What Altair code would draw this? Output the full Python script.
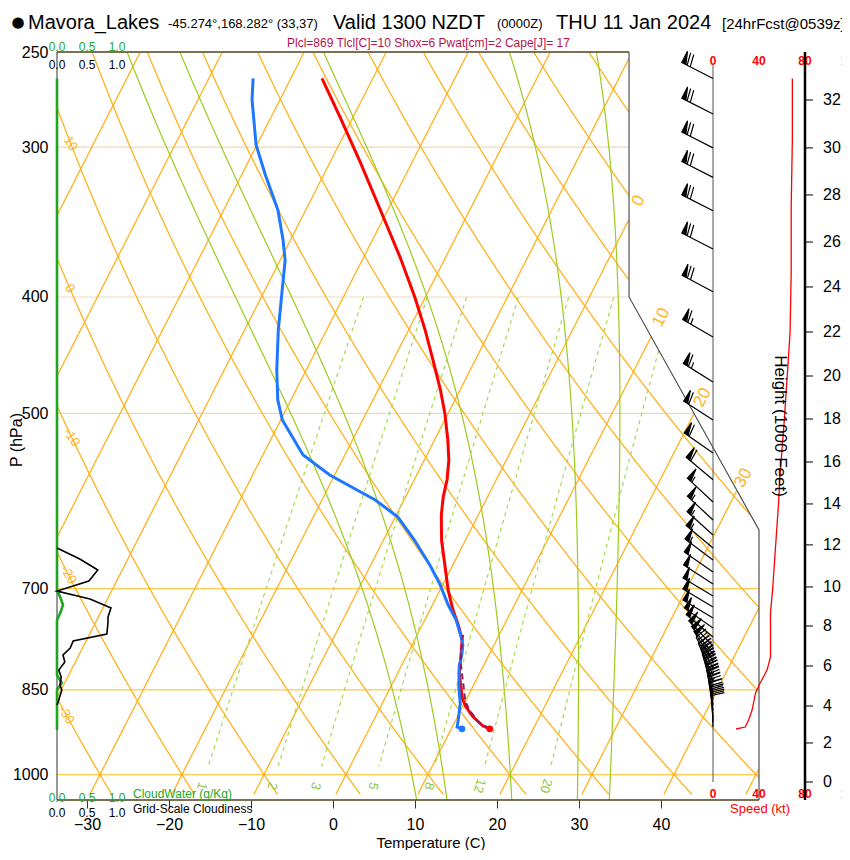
import numpy as np
import pandas as pd
import altair as alt

FONT = "Liberation Sans"

# ---------------- diagram geometry ----------------
P_BOT, P_TOP = 1050.0, 250.0
PX_LEFT, PX_TOP = 57, 52               # page position of the plot origin (free text)
VIEW_W = 842 - PX_LEFT                 # keep the page within 850 px
X_MIN = -33.66                         # skewed-temperature units at the left edge
X_MAX = X_MIN + VIEW_W / 8.2           # 8.2 px per degC
SKEW = 32.4                            # degC per ln(p) unit

BOUND_P = [250.0, 400.0, 625.5, 1050.0]   # right edge of the diagram
BOUND_X = [36.1, 36.1, 51.95, 51.95]

PRESSURE_TICKS = [250, 300, 400, 500, 700, 850, 1000]
TEMP_TICKS = [-30, -20, -10, 0, 10, 20, 30, 40]
ISOBARS_STRONG = [1000, 850, 700]
ISOBARS_LIGHT = [500, 400, 300]

ISOTHERMS = list(range(-110, 60, 10))
DRY_THETA = list(range(-40, 130, 10))
MOIST_T1050 = [10.2, 13.9, 21.8, 29.8, 33.7]
MIX_W = [1, 2, 3, 5, 8, 12, 20]
ISO_LAB_T = [0, 10, 20, 30]
ISO_LAB_P = [332.6, 416, 485, 566]
THETA_LAB = [10, 0, -10, -20, -30]
THETA_LAB_P = [298, 393.5, 523.5, 681.6, 892]

# ---------------- sounding ----------------
TEMP_P = [263, 283.7, 309, 338.5, 371, 400, 426, 451, 478, 500, 526, 547, 568, 587, 608,
          638, 675, 702, 729, 750.5, 772.5, 795, 823, 863, 878, 895, 911, 916]
TEMP_T = [-46.2, -41.5, -36.3, -30.9, -25.5, -21.3, -18.0, -15.2, -12.4, -10.4, -8.4, -7.0,
          -6.0, -5.4, -4.5, -2.9, -0.6, 1.0, 2.8, 4.4, 5.8, 6.6, 7.5, 9.4, 10.4, 11.9, 13.7, 14.7]

DEW_P = [263, 274, 298.8, 316.5, 338.5, 358.6, 372.7, 394.7, 426, 460, 487.4, 506.5, 541.6,
         562.8, 590.5, 610, 638, 668.9, 695, 722, 743, 768, 780, 792, 813, 845, 872, 900.6,
         912.8, 916]
DEW_T = [-54.6, -53.4, -50.1, -47.1, -43.4, -40.9, -39.4, -37.9, -35.9, -33.6, -31.6, -29.8,
         -25.1, -20.6, -13.5, -9.7, -6.2, -2.8, -0.3, 1.9, 3.8, 5.5, 6.2, 6.6, 7.1, 8.3, 9.5,
         10.3, 10.6, 11.3]

PARCEL_P = [916, 906, 883.5, 866.7, 838.9, 810.4, 787.4, 765]
PARCEL_T = [14.7, 13.1, 11.0, 9.9, 8.6, 7.2, 6.3, 5.6]

SFC_P = 916
SFC_T = 14.7
SFC_TD = 11.3

WIND_P = [263, 281.6, 300.5, 318, 339, 364.8, 396, 432, 470.8, 506.5, 539.6, 568, 592.8,
          613.6, 631.5, 647.4, 662.5, 678, 693.7, 710, 725, 740.5, 754.8, 768, 781.4, 793.5,
          804, 815, 826, 835.7, 845.4, 855, 865, 875, 885, 895.5, 904, 912.8]
WIND_DIR = [297, 297, 297, 297, 297, 297, 298, 300, 302, 303, 305, 310, 313, 313, 312, 310,
            307, 305, 303, 301, 301, 301, 305, 310, 316, 322, 327, 331, 335, 339, 342, 345,
            348, 350, 352, 355, 357, 358]
WIND_SPD = [69, 69, 69, 68, 68, 68, 68, 67, 64, 62, 60, 58, 57, 56, 55, 54, 53, 52, 52, 51,
            50, 50, 50, 50, 50, 50, 49, 47, 45, 42, 40, 38, 36, 34, 32, 30, 28, 22]

SPD_P = [263, 296, 336.5, 382, 428.6, 506.5, 568, 593.9, 697.7, 733.4, 798, 818.3, 838.9,
         855, 883.5, 900.6, 912.8, 916.3]
SPD_V = [69, 69, 68, 68, 67, 62, 58, 57, 52, 50, 50, 47, 41, 37, 34, 31, 28, 20]
SPEED_TICKS = [0, 40, 80, 120]
SPD_X0 = 46.34        # skewed-x position of 0 kt
SPD_K = 0.14024       # skewed-x units per kt

HEIGHT_KFT = [0, 2, 4, 6, 8, 10, 12, 14, 16, 18, 20, 22, 24, 26, 28, 30, 32]
HEIGHT_P = [1014.4, 941.2, 876.8, 812, 752, 697.7, 643.6, 595, 549, 505.5, 465.5, 427.8,
            392.4, 360, 328.9, 300.5, 274.1]

CW_P = [263, 702, 712.6, 722.3, 732, 743.4, 826, 838.9, 850.2, 918]
CW_V = [0, 0, 0.06, 0.1, 0.06, 0, 0, 0.08, 0, 0]
CLD_P = [647.4, 661.3, 675.4, 689.7, 703.2, 714, 726.4, 739.1, 747.7, 763.7, 774, 784.5,
         795, 805.8, 818.3, 829.3, 842.1, 850.2, 870, 875]
CLD_V = [0, 0.38, 0.68, 0.53, 0, 0.55, 0.9, 0.85, 0.85, 0.83, 0.27, 0.22, 0.1, 0.13, 0.03,
         0.07, 0.05, 0.08, 0.02, 0]
CLOUD_TICKS = [0.0, 0.5, 1.0]
CLOUD_K = 60 / 8.2    # skewed-x units per 1.0 of cloud scale

ORANGE = "#FFB21E"
ORANGE_LIGHT = "#FFC850"
GREEN = "#9CCB1E"
GREEN_DASH = "#A8D84E"
GREEN_TXT = "#8CC63F"
RED = "#FF0000"
BLUE = "#1E78FF"
PURPLE = "#8B1C62"
FRAME = "#4E4018"


def skewx(T, p):
    return np.asarray(T, float) + SKEW * np.log(P_BOT / np.asarray(p, float))


def right_edge(p):
    return np.interp(np.log(np.asarray(p, float)), np.log(BOUND_P), BOUND_X)


PS = np.exp(np.linspace(np.log(P_TOP), np.log(P_BOT), 800))


def clip_lines(curves, pmax=1040.0):
    rows, gid = [], 0
    for xs, ps in curves:
        ok = (xs >= X_MIN) & (xs <= right_edge(ps)) & (ps <= pmax) & (ps >= P_TOP)
        run = []
        for x, p, good in list(zip(xs, ps, ok)) + [(0, 0, False)]:
            if good:
                run.append((x, p))
            else:
                if len(run) > 1:
                    for k, (a, b) in enumerate(run):
                        rows.append((a, b, gid, k))
                    gid += 1
                run = []
    return pd.DataFrame(rows, columns=["X", "p", "g", "o"])


# isotherms and dry adiabats
iso_df = clip_lines([(skewx(np.full_like(PS, T), PS), PS) for T in ISOTHERMS])
dry_df = clip_lines([(skewx((th + 273.15) * (PS / 1000.0) ** 0.2857 - 273.15, PS), PS)
                     for th in DRY_THETA])

# moist adiabats (pseudo-adiabatic integration)
Rd, Cp, Lv, EPS = 287.04, 1005.7, 2.501e6, 0.622


def es(tc):
    return 6.112 * np.exp(17.67 * tc / (tc + 243.5))


def dtdlnp(T, p):
    e = es(T - 273.15)
    rs = EPS * e / (p - e)
    return (Rd * T + Lv * rs) / (Cp + Lv * Lv * rs * EPS / (Rd * T * T))


def moist(t0):
    ps = PS[::-1]
    lnp = np.log(ps)
    T = t0 + 273.15
    out = [T]
    for i in range(1, len(ps)):
        h = lnp[i] - lnp[i - 1]
        pa, pm, pb = ps[i - 1], np.exp(lnp[i - 1] + h / 2), ps[i]
        k1 = dtdlnp(T, pa)
        k2 = dtdlnp(T + h * k1 / 2, pm)
        k3 = dtdlnp(T + h * k2 / 2, pm)
        k4 = dtdlnp(T + h * k3, pb)
        T = T + h * (k1 + 2 * k2 + 2 * k3 + k4) / 6
        out.append(T)
    return skewx(np.array(out) - 273.15, ps), ps


moist_df = clip_lines([moist(t) for t in MOIST_T1050], pmax=1050.0)


def mix_td(w, p):
    e = w * p / (622.0 + w)
    l = np.log(e / 6.112)
    return 243.5 * l / (17.67 - l)


PM = PS[(PS >= 400) & (PS <= 985)]
mix_df = clip_lines([(skewx(mix_td(w, PM), PM), PM) for w in MIX_W], pmax=985.0)

# ---------------- scales / encodings ----------------
XSC = alt.Scale(domain=[X_MIN, X_MAX], nice=False, zero=False)
YSC = alt.Scale(type="log", domain=[P_BOT, P_TOP], nice=False)
XAX = alt.Axis(values=TEMP_TICKS, tickSize=8, tickColor="#333333", tickWidth=1,
               labelFontSize=16, labelFont=FONT, labelColor="black", labelPadding=8,
               domain=False, grid=False, title=None)
YAX = alt.Axis(values=PRESSURE_TICKS, format="d", tickSize=0, labelFontSize=16,
               labelFont=FONT, labelColor="black", labelPadding=9, domain=False,
               grid=False, title=None)


def ex(f="X"):
    return alt.X(f"{f}:Q", scale=XSC, axis=XAX)


def ey(f="p"):
    return alt.Y(f"{f}:Q", scale=YSC, axis=YAX)


def gridlines(df, color, width=1.2, dash=None):
    kw = dict(color=color, strokeWidth=width)
    if dash:
        kw["strokeDash"] = dash
    return alt.Chart(df).mark_line(**kw).encode(x=ex(), y=ey(), detail="g:N", order="o:Q")


def ftext(t, px, py, size=12, color="black", align="left", baseline="alphabetic",
          angle=0, weight="normal", font=FONT):
    return alt.Chart(pd.DataFrame({"t": [t]})).mark_text(
        align=align, baseline=baseline, angle=angle, fontSize=size, color=color,
        fontWeight=weight, font=font).encode(
        x=alt.value(px - PX_LEFT), y=alt.value(py - PX_TOP), text="t:N")


layers = []

# isobars
isob = pd.DataFrame({"p": ISOBARS_STRONG + ISOBARS_LIGHT})
isob["X1"] = X_MIN
isob["X2"] = right_edge(isob["p"])
isob["c"] = [ORANGE_LIGHT] * 3 + ["#EED9B0"] * 3
layers.append(alt.Chart(isob).mark_rule(strokeWidth=1.2).encode(
    x=ex("X1"), x2="X2:Q", y=ey(), color=alt.Color("c:N", scale=None)))

layers.append(gridlines(iso_df, ORANGE, 1.3))
layers.append(gridlines(dry_df, ORANGE, 1.3))
layers.append(gridlines(moist_df, GREEN, 1.2))
layers.append(gridlines(mix_df, GREEN_DASH, 1.2, [4, 4]))

# grid labels
iso_lab = pd.DataFrame({"t": [str(v) for v in ISO_LAB_T], "p": ISO_LAB_P})
iso_lab["X"] = skewx(ISO_LAB_T, ISO_LAB_P)
layers.append(alt.Chart(iso_lab).mark_text(angle=297, fontSize=17, color=ORANGE, font=FONT)
              .encode(x=ex(), y=ey(), text="t:N"))
th_lab = pd.DataFrame({"t": [str(v) for v in THETA_LAB], "p": THETA_LAB_P})
th_lab["X"] = skewx((np.array(THETA_LAB) + 273.15) * (np.array(THETA_LAB_P) / 1000.0) ** 0.2857
                    - 273.15, THETA_LAB_P)
layers.append(alt.Chart(th_lab).mark_text(angle=57, fontSize=13, color=ORANGE, font=FONT)
              .encode(x=ex(), y=ey(), text="t:N"))
mx_lab = pd.DataFrame({"t": [str(w) for w in MIX_W], "p": 1022.0})
mx_lab["X"] = skewx([mix_td(w, 1022.0) for w in MIX_W], 1022.0)
layers.append(alt.Chart(mx_lab).mark_text(angle=105, fontSize=13, color=GREEN_TXT, font=FONT)
              .encode(x=ex(), y=ey(), text="t:N"))

# frame
frame_tb = pd.DataFrame({"p": [P_TOP, P_BOT], "X1": [X_MIN, X_MIN],
                         "X2": [BOUND_X[0], BOUND_X[-1]]})
layers.append(alt.Chart(frame_tb).mark_rule(color=FRAME, strokeWidth=1.4).encode(
    x=ex("X1"), x2="X2:Q", y=ey()))
frame_side = pd.DataFrame({"X": [X_MIN, X_MIN] + BOUND_X,
                           "p": [P_TOP, P_BOT] + BOUND_P,
                           "g": [0, 0, 1, 1, 1, 1], "o": [0, 1, 0, 1, 2, 3]})
layers.append(alt.Chart(frame_side).mark_line(color="#444444", strokeWidth=1.1).encode(
    x=ex(), y=ey(), detail="g:N", order="o:Q"))

# cloud water / cloudiness profiles on the left edge
cw = pd.DataFrame({"p": CW_P, "v": CW_V})
cw["X"] = X_MIN + cw["v"] * CLOUD_K
cw["o"] = range(len(cw))
layers.append(alt.Chart(cw).mark_line(color="#1FA61F", strokeWidth=2.6).encode(
    x=ex(), y=ey(), order="o:Q"))
cld = pd.DataFrame({"p": CLD_P, "v": CLD_V})
cld["X"] = X_MIN + cld["v"] * CLOUD_K
cld["o"] = range(len(cld))
layers.append(alt.Chart(cld).mark_line(color="black", strokeWidth=1.6).encode(
    x=ex(), y=ey(), order="o:Q"))

# temperature, dewpoint, parcel
tdf = pd.DataFrame({"p": TEMP_P, "T": TEMP_T})
tdf["X"] = skewx(tdf["T"], tdf["p"])
tdf["o"] = range(len(tdf))
layers.append(alt.Chart(tdf).mark_line(color=RED, strokeWidth=3).encode(
    x=ex(), y=ey(), order="o:Q"))
ddf = pd.DataFrame({"p": DEW_P, "T": DEW_T})
ddf["X"] = skewx(ddf["T"], ddf["p"])
ddf["o"] = range(len(ddf))
layers.append(alt.Chart(ddf).mark_line(color=BLUE, strokeWidth=3).encode(
    x=ex(), y=ey(), order="o:Q"))
pdf = pd.DataFrame({"p": PARCEL_P, "T": PARCEL_T})
pdf["X"] = skewx(pdf["T"], pdf["p"])
pdf["o"] = range(len(pdf))
layers.append(alt.Chart(pdf).mark_line(color=PURPLE, strokeWidth=2, strokeDash=[6, 4]).encode(
    x=ex(), y=ey(), order="o:Q"))
sfc = pd.DataFrame({"p": [SFC_P, SFC_P], "T": [SFC_T, SFC_TD], "c": [RED, BLUE]})
sfc["X"] = skewx(sfc["T"], sfc["p"])
layers.append(alt.Chart(sfc).mark_circle(size=45, opacity=1).encode(
    x=ex(), y=ey(), color=alt.Color("c:N", scale=None)))

# wind barbs
BARB_LEN_PX = 35
BARB_SIZE = (2 * BARB_LEN_PX) ** 2


def barb_path(speed):
    s = int(5 * round(speed / 5.0))
    n50, r = divmod(s, 50)
    n10, r = divmod(r, 10)
    n5 = 1 if r >= 5 else 0
    fl = 0.36
    out = ["M0,0L0,-1"]
    pos = -1.0
    for _ in range(n50):
        out.append(f"M0,{pos:.3f}L{fl:.3f},{pos:.3f}L0,{pos + 0.13:.3f}Z")
        pos += 0.17
    for _ in range(n10):
        out.append(f"M0,{pos:.3f}L{fl:.3f},{pos - 0.07:.3f}")
        pos += 0.1
    if n5:
        if pos == -1.0:
            pos += 0.1
        out.append(f"M0,{pos:.3f}L{fl / 2:.3f},{pos - 0.035:.3f}")
    return "".join(out)


wdf = pd.DataFrame({"p": WIND_P, "dir": WIND_DIR, "spd": WIND_SPD})
wdf["path"] = [barb_path(s) for s in WIND_SPD]
wdf["X"] = SPD_X0

# speed axis (0 kt line)
layers.append(alt.Chart(pd.DataFrame({"a": [0]})).mark_rule(color="#555555", strokeWidth=1).encode(
    x=alt.value(713 - PX_LEFT), y=alt.value(65 - PX_TOP), y2=alt.value(782 - PX_TOP)))
layers.append(alt.Chart(wdf).mark_point(filled=True, fill="black", stroke="black",
                                        strokeWidth=1.2, size=BARB_SIZE, opacity=1).encode(
    x=ex(), y=ey(), shape=alt.Shape("path:N", scale=None),
    angle=alt.Angle("dir:Q", scale=None)))

# wind speed profile
sdf = pd.DataFrame({"p": SPD_P, "v": SPD_V})
sdf["X"] = SPD_X0 + sdf["v"] * SPD_K
sdf["o"] = range(len(sdf))
layers.append(alt.Chart(sdf).mark_line(color=RED, strokeWidth=1.3).encode(
    x=ex(), y=ey(), order="o:Q"))

# speed scale labels (top and bottom)
spl = pd.DataFrame({"t": [str(v) for v in SPEED_TICKS]})
spl["X"] = SPD_X0 + np.array(SPEED_TICKS) * SPD_K
for py in (65, 798):
    layers.append(alt.Chart(spl).mark_text(fontSize=12, fontWeight="bold", color=RED,
                                           font=FONT, align="center", baseline="alphabetic")
                  .encode(x=ex(), y=alt.value(py - PX_TOP), text="t:N"))
layers.append(ftext("Speed (kt)", 760, 813, size=13, color=RED, align="center"))

# height axis
layers.append(alt.Chart(pd.DataFrame({"a": [0]})).mark_rule(color="black", strokeWidth=2.5).encode(
    x=alt.value(805 - PX_LEFT), y=alt.value(0), y2=alt.value(800 - PX_TOP)))
hdf = pd.DataFrame({"p": HEIGHT_P, "t": [str(h) for h in HEIGHT_KFT]})
layers.append(alt.Chart(hdf).mark_rule(color="black", strokeWidth=1).encode(
    x=alt.value(805 - PX_LEFT), x2=alt.value(813 - PX_LEFT), y=ey()))
layers.append(alt.Chart(hdf).mark_text(fontSize=16, font=FONT, color="black", align="left",
                                       baseline="middle")
              .encode(x=alt.value(823 - PX_LEFT), y=ey(), text="t:N"))
layers.append(ftext("Height (1000 Feet)", 780, 426, size=17, align="center", baseline="middle",
                    angle=90))

# cloud scale labels
cl = pd.DataFrame({"t": ["%.1f" % v for v in CLOUD_TICKS]})
cl["X"] = X_MIN + np.array(CLOUD_TICKS) * CLOUD_K
for py, col in ((47, "#22AA22"), (65, "black"), (798, "#22AA22"), (813, "black")):
    layers.append(alt.Chart(cl).mark_text(fontSize=12, font=FONT, color=col, align="center")
                  .encode(x=ex(), y=alt.value(py - PX_TOP), text="t:N"))
layers.append(ftext("CloudWater (g/Kg)", 133, 798, size=12, color="#22AA22"))
layers.append(ftext("Grid-Scale Cloudiness", 133, 813, size=12))

# axis titles
layers.append(ftext("Temperature (C)", 431, 848, size=15, align="center"))
layers.append(ftext("P (hPa)", 17, 440, size=16, align="center", baseline="middle", angle=270))

# header
layers.append(ftext("\u25CF", 18, 22, size=15, align="center", baseline="middle",
                    font="DejaVu Sans"))
layers.append(ftext("Mavora_Lakes", 28, 29, size=20))
layers.append(ftext("-45.274\u00b0,168.282\u00b0 (33,37)", 168, 28, size=13))
layers.append(ftext("Valid 1300 NZDT", 333, 29, size=20))
layers.append(ftext("(0000Z)", 497, 28, size=13))
layers.append(ftext("THU 11 Jan 2024", 556, 29, size=20))
layers.append(ftext("[24hrFcst@0539z]", 722, 29, size=15))
layers.append(ftext("Plcl=869 Tlcl[C]=10 Shox=6 Pwat[cm]=2 Cape[J]= 17", 287, 47, size=12,
                    color="#B5124F"))

chart = alt.layer(*layers).properties(
    width=VIEW_W, height=800 - PX_TOP,
    autosize=alt.AutoSizeParams(type="none"),
    padding={"left": PX_LEFT - 8, "top": PX_TOP - 8, "right": 0, "bottom": 850 - 800},
    background="white",
).configure_view(stroke=None)

chart.save("out.html", embed_options={"renderer": "svg", "actions": False})
